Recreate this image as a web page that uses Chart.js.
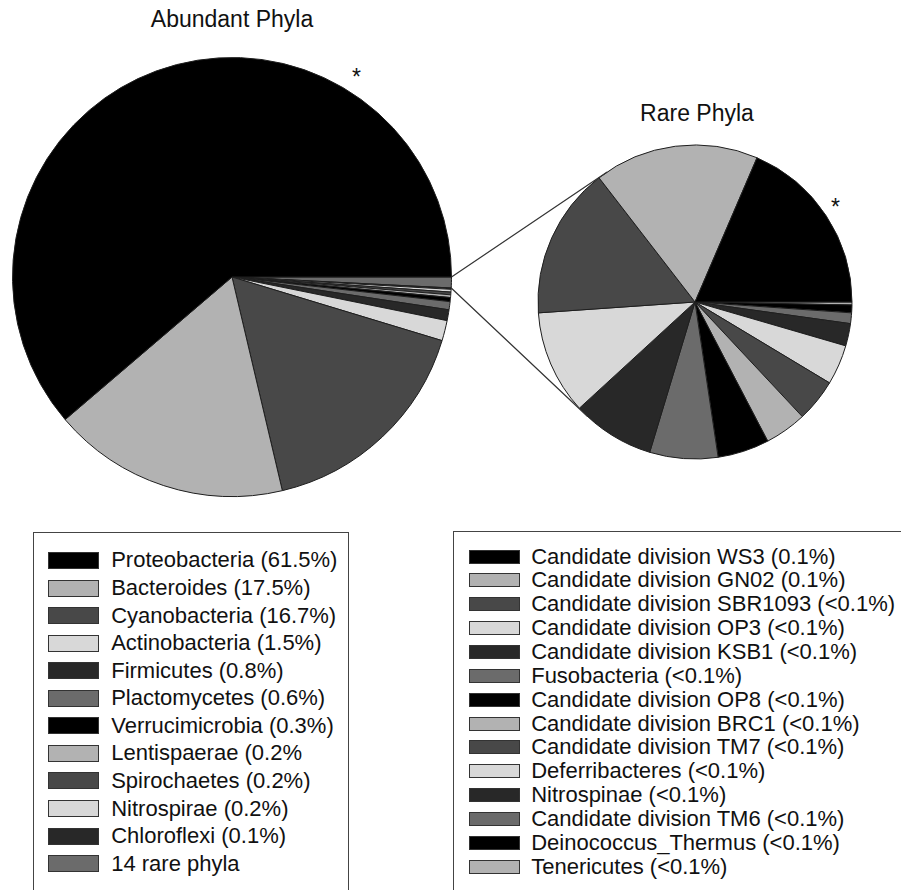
<!DOCTYPE html>
<html>
<head>
<meta charset="utf-8">
<script src="https://cdn.jsdelivr.net/npm/chart.js@4.4.1/dist/chart.umd.min.js"></script>
<style>
  html, body { margin:0; padding:0; background:#fff; }
  body { width:901px; height:890px; overflow:hidden; position:relative; font-family:"Liberation Sans", Arial, sans-serif; color:#111; }
  canvas { position:absolute; }
  #leftPie { left:0; top:40px; }
  #rightPie { left:440px; top:100px; }
  .title { position:absolute; width:300px; text-align:center; font-size:23px; line-height:23px; white-space:nowrap; }
  .star { position:absolute; font-size:23px; line-height:23px; }
  .legendBox { position:absolute; border:1.5px solid #444; box-sizing:border-box; }
  .legendBox .rows { position:absolute; left:0; }
  .row { display:flex; align-items:center; white-space:nowrap; font-size:22px; }
  .sw { flex:none; box-sizing:border-box; border:1.5px solid #333; }
</style>
</head>
<body>
<div class="title" style="left:82px; top:8px;">Abundant Phyla</div>
<div class="title" style="left:547px; top:102px;">Rare Phyla</div>
<div class="star" style="left:352px; top:66px;">*</div>
<div class="star" style="left:831px; top:196px;">*</div>

<canvas id="leftPie" width="470" height="470"></canvas>
<canvas id="rightPie" width="440" height="400"></canvas>

<div class="legendBox" id="leftBox" style="left:33px; top:532px; width:316px; height:380px;"><div class="rows" id="leftRows"></div></div>
<div class="legendBox" id="rightBox" style="left:453px; top:531px; width:470px; height:380px;"><div class="rows" id="rightRows"></div></div>

<script>
// ---------- Data ----------
const abundantLabels = [
  'Proteobacteria (61.5%)', 'Bacteroides (17.5%)', 'Cyanobacteria (16.7%)', 'Actinobacteria (1.5%)',
  'Firmicutes (0.8%)', 'Plactomycetes (0.6%)', 'Verrucimicrobia (0.3%)', 'Lentispaerae (0.2%',
  'Spirochaetes (0.2%)', 'Nitrospirae (0.2%)', 'Chloroflexi (0.1%)', '14 rare phyla'
];
const abundantValues = [61.5, 17.5, 16.7, 1.5, 0.8, 0.6, 0.3, 0.2, 0.2, 0.2, 0.1, 0.8];

const rareLabels = [
  'Candidate division WS3 (0.1%)', 'Candidate division GN02 (0.1%)', 'Candidate division SBR1093 (<0.1%)',
  'Candidate division OP3 (<0.1%)', 'Candidate division KSB1 (<0.1%)', 'Fusobacteria (<0.1%)',
  'Candidate division OP8 (<0.1%)', 'Candidate division BRC1 (<0.1%)', 'Candidate division TM7 (<0.1%)',
  'Deferribacteres (<0.1%)', 'Nitrospinae (<0.1%)', 'Candidate division TM6 (<0.1%)',
  'Deinococcus_Thermus (<0.1%)', 'Tenericutes (<0.1%)'
];
const rareValues = [18.5, 16.9, 15.6, 10.7, 8.5, 7.0, 5.3, 4.3, 4.4, 4.1, 2.3, 1.1, 0.8, 0.3];

// grey cycle used by both pies
const greys = ['#000000', '#b2b2b2', '#484848', '#d8d8d8', '#282828', '#6b6b6b'];

// ---------- Helpers ----------
function colorsFor(n){ return Array.from({length:n}, (_, i) => greys[i % greys.length]); }
// slices go counter-clockwise from 3 o'clock in the figure; Chart.js draws clockwise,
// so feed the data reversed and start at 90deg
function rev(a){ return a.slice().reverse(); }

function pieConfig(labels, values, radius, padding, extraPlugins){
  return {
    type: 'pie',
    data: {
      labels: rev(labels),
      datasets: [{
        data: rev(values),
        backgroundColor: rev(colorsFor(values.length)),
        borderColor: '#1e1e1e',
        borderWidth: 1,
        radius: radius
      }]
    },
    options: {
      responsive: false,
      animation: false,
      events: [],
      rotation: 90,
      layout: { padding: padding },
      plugins: { legend: { display: false }, tooltip: { enabled: false }, title: { display: false } }
    },
    plugins: extraPlugins || []
  };
}

// ---------- Charts ----------
const leftCanvas = document.getElementById('leftPie');
const rightCanvas = document.getElementById('rightPie');

const leftChart = new Chart(leftCanvas.getContext('2d'),
  pieConfig(abundantLabels, abundantValues, 219.5, { left:0, right:6, top:4, bottom:0 }));

// lines from the "14 rare phyla" slice to the rare pie (tangents)
const connector = {
  id: 'connector',
  afterDatasetsDraw(chart){
    const arc = leftChart.getDatasetMeta(0).data[0];
    const big = chart.getDatasetMeta(0).data[0];
    const dx = leftCanvas.offsetLeft - rightCanvas.offsetLeft;
    const dy = leftCanvas.offsetTop - rightCanvas.offsetTop;
    const r0 = arc.outerRadius;
    const pA = { x: arc.x + dx + r0*Math.cos(arc.startAngle), y: arc.y + dy + r0*Math.sin(arc.startAngle) };
    const pB = { x: arc.x + dx + r0*Math.cos(arc.endAngle), y: arc.y + dy + r0*Math.sin(arc.endAngle) };
    const c = { x: big.x, y: big.y }, r = big.outerRadius;
    function tangent(p, sign){
      const d = Math.hypot(c.x - p.x, c.y - p.y);
      const th = Math.atan2(c.y - p.y, c.x - p.x);
      const al = Math.asin(r / d);
      const len = Math.sqrt(d*d - r*r);
      const a = th + sign*al;
      return { x: p.x + len*Math.cos(a), y: p.y + len*Math.sin(a) };
    }
    const tA = tangent(pA, -1), tB = tangent(pB, 1);
    const ctx = chart.ctx;
    ctx.save();
    ctx.strokeStyle = '#333';
    ctx.lineWidth = 1.2;
    ctx.beginPath();
    ctx.moveTo(pA.x, pA.y); ctx.lineTo(tA.x, tA.y);
    ctx.moveTo(pB.x, pB.y); ctx.lineTo(tB.x, tB.y);
    ctx.stroke();
    ctx.restore();
  }
};

const rightChart = new Chart(rightCanvas.getContext('2d'),
  pieConfig(rareLabels, rareValues, 157, { left:70, right:0, top:4, bottom:0 }, [connector]));

// ---------- Legends ----------
function buildLegend(el, labels, rowH, swH, swLeft, gap, fontSize){
  const cols = colorsFor(labels.length);
  el.innerHTML = labels.map((l, i) => `
    <div class="row" style="height:${rowH}px;font-size:${fontSize}px">
      <span class="sw" style="width:51px;height:${swH}px;margin-left:${swLeft}px;margin-right:${gap}px;background:${cols[i]}"></span>
      <span>${l.replace(/&/g,'&amp;').replace(/</g,'&lt;')}</span>
    </div>`).join('');
}
const leftRows = document.getElementById('leftRows');
const rightRows = document.getElementById('rightRows');
leftRows.style.top = '13.7px';
rightRows.style.top = '12.6px';
buildLegend(leftRows, abundantLabels, 27.57, 17, 13.8, 12.4, 22);
buildLegend(rightRows, rareLabels, 23.87, 14, 14.5, 11.7, 22);
</script>
</body>
</html>
